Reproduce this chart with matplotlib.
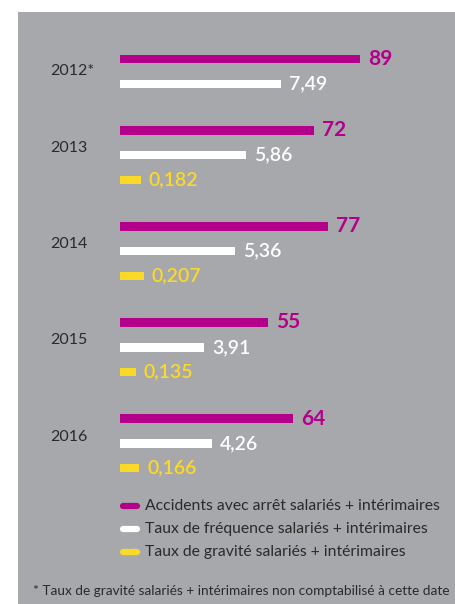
import matplotlib.pyplot as plt
import matplotlib.patches as patches

# Data
years = ['2012*', '2013', '2014', '2015', '2016']
accidents = [89, 72, 77, 55, 64]
frequence = [7.49, 5.86, 5.36, 3.91, 4.26]
gravite = [None, 0.182, 0.207, 0.135, 0.166]
legend_labels = ['Accidents avec arrêt salariés + intérimaires',
                 'Taux de fréquence salariés + intérimaires',
                 'Taux de gravité salariés + intérimaires']
footnote = '* Taux de gravité salariés + intérimaires non comptabilisé à cette date'

GRAY = '#a7a8ab'
MAGENTA = '#b3008b'
WHITE = '#ffffff'
YELLOW = '#fbd928'
DARK = '#2a2a2a'

plt.rcParams['font.family'] = ['Lato', 'DejaVu Sans']

fig = plt.figure(figsize=(4.56, 6.04), dpi=100)
fig.patch.set_facecolor('white')
ax = fig.add_axes([0, 0, 1, 1])
ax.set_xlim(0, 456)
ax.set_ylim(604, 0)
ax.axis('off')

# gray panel
ax.add_patch(patches.Rectangle((18, 12), 440, 600, facecolor=GRAY, edgecolor='none', zorder=0))

x0 = 120
step = 24.8
group_gap = 46.5
series = [(accidents, MAGENTA, 2.7, lambda v: f"{v}", 'bold', 15),
          (frequence, WHITE, 21.5, lambda v: f"{v:.2f}".replace('.', ','), 'semibold', 14),
          (gravite, YELLOW, 115, lambda v: f"{v:.3f}".replace('.', ','), 'semibold', 14)]

y = 59
for i, year in enumerate(years):
    y_first = y
    n = 0
    for values, color, scale, fmt, weight, fs in series:
        v = values[i]
        if v is None:
            continue
        w = v * scale
        ax.barh(y, w, left=x0, height=8.5, color=color, zorder=2)
        ax.text(x0 + w + 8, y, fmt(v), color=color, fontsize=fs, fontweight=weight,
                va='center', ha='left')
        n += 1
        y += step
    ax.text(50, y_first + 6 * n, year, color=DARK, fontsize=11.5, va='center', ha='left')
    y += group_gap - step

# legend
leg_y = [506, 529, 552]
for ly, color, label in zip(leg_y, [MAGENTA, WHITE, YELLOW], legend_labels):
    ax.plot([123, 137], [ly, ly], color=color, lw=4.5, solid_capstyle='round')
    ax.text(145, ly, label, color=DARK, fontsize=11.3, va='center', ha='left')

ax.text(33, 591, footnote, color=DARK, fontsize=9.8, va='center', ha='left')

fig.savefig('out.png', dpi=100, facecolor='white')
